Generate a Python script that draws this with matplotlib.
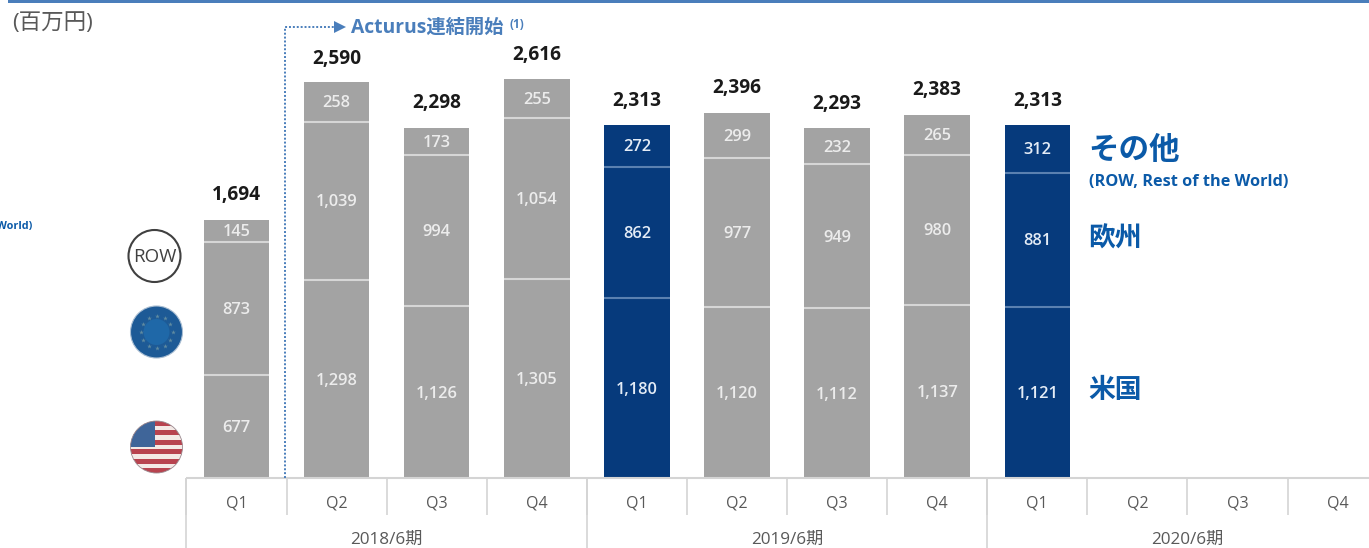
import numpy as np
import matplotlib
matplotlib.use("Agg")
from matplotlib import pyplot as plt
from matplotlib.patches import Circle, Rectangle

plt.rcParams['font.family'] = ['Open Sans', 'Noto Sans CJK JP', 'DejaVu Sans']

quarters = ["Q1", "Q2", "Q3", "Q4", "Q1", "Q2", "Q3", "Q4", "Q1", "Q2", "Q3", "Q4"]
fiscal_years = ["2018/6期", "2019/6期", "2020/6期"]
usa = [677, 1298, 1126, 1305, 1180, 1120, 1112, 1137, 1121]
europe = [873, 1039, 994, 1054, 862, 977, 949, 980, 881]
row = [145, 258, 173, 255, 272, 299, 232, 265, 312]
totals = [1694, 2590, 2298, 2616, 2313, 2396, 2293, 2383, 2313]
highlighted = [4, 8]

W, H = 1369, 548
BASE_Y = 478
PX_PER_UNIT = 0.1525
STEP = 100.1
FIRST_X = 236.5

GRAY = "#a3a3a3"
NAVY = "#063a7c"
LABEL_BLUE = "#0b5aa8"
HEAD_BLUE = "#4a7ebb"
RULE = "#d4d4d4"

fig = plt.figure(figsize=(W / 100, H / 100), dpi=100)
ax = fig.add_axes([0, 0, 1, 1])
ax.set_xlim(-FIRST_X / STEP, (W - FIRST_X) / STEP)
ax.set_ylim(-(H - BASE_Y) / PX_PER_UNIT, BASE_Y / PX_PER_UNIT)
ax.axis('off')

# overlay in pixel coordinates for annotations, y pointing down
pix = fig.add_axes([0, 0, 1, 1], facecolor='none')
pix.set_xlim(0, W)
pix.set_ylim(H, 0)
pix.axis('off')

# stacked bars
x = np.arange(len(totals))
colors = [NAVY if i in highlighted else GRAY for i in x]
bar_w = 65.5 / STEP
usa_a = np.array(usa)
eur_a = np.array(europe)
row_a = np.array(row)
ax.bar(x, usa_a, bar_w, color=colors)
ax.bar(x, eur_a, bar_w, bottom=usa_a, color=colors)
ax.bar(x, row_a, bar_w, bottom=usa_a + eur_a, color=colors)

# thin separators between the segments and the value labels
label_shift = 1.5 / PX_PER_UNIT
for i in x:
    sep = "#5a80b0" if i in highlighted else "#d6d6d6"
    txt = "#e4ecf6" if i in highlighted else "#ececec"
    ax.hlines([usa_a[i], usa_a[i] + eur_a[i]], i - bar_w / 2, i + bar_w / 2, color=sep, lw=1.5)
    bottom = 0
    for vals in (usa_a, eur_a, row_a):
        ax.text(i, bottom + vals[i] / 2 - label_shift, f"{vals[i]:,}", ha='center', va='center',
                color=txt, fontsize=11.8, fontweight='semibold')
        bottom += vals[i]
    ax.annotate(f"{totals[i]:,}", (i, totals[i]), xytext=(0, 24.5 * 0.72), textcoords='offset points',
                ha='center', va='center', color="#1a1a1a", fontsize=13.8, fontweight='bold')

# category table under the bars
n = len(quarters)
edges = np.arange(n) - 0.5
ax.hlines(0, edges[0], n, color=RULE, lw=1.5)
table_y = -37 / PX_PER_UNIT
ax.vlines(edges, table_y, 0, color=RULE, lw=1.2)
ax.vlines(edges[::4], ax.get_ylim()[0], 0, color=RULE, lw=1.2)
for i, q in enumerate(quarters):
    ax.text(i, -26 / PX_PER_UNIT, q, ha='center', va='center', color="#595959", fontsize=11.5)
for j, fy in enumerate(fiscal_years):
    ax.text(4 * j + 1.5, -62 / PX_PER_UNIT, fy, ha='center', va='center', color="#595959", fontsize=12.3)

# header rule and unit
pix.add_patch(Rectangle((8, 0), W - 8, 2.5, color=HEAD_BLUE, lw=0))
pix.text(12, 24, "(百万円)", ha='left', va='center', color="#595959", fontsize=16.2)

# consolidation marker
pix.plot([285, 285, 335], [478, 27, 27], color=HEAD_BLUE, lw=1.4, ls=(0, (1, 1)))
pix.plot([340], [27], marker='>', ms=8, color=HEAD_BLUE, mew=0)
pix.text(351, 27.5, "Acturus連結開始", ha='left', va='center', color=HEAD_BLUE, fontsize=13.9, fontweight='bold')
pix.text(509, 25, "(1)", ha='left', va='center', color=HEAD_BLUE, fontsize=8.5, fontweight='bold')

# region labels to the right of the last bar
pix.text(1088, 151, "その他", ha='left', va='center', color=LABEL_BLUE, fontsize=22, fontweight='bold')
pix.text(1089, 182, "(ROW, Rest of the World)", ha='left', va='center', color=LABEL_BLUE,
         fontsize=11.7, fontweight='bold')
pix.text(1088, 240, "欧州", ha='left', va='center', color=LABEL_BLUE, fontsize=19.3, fontweight='bold')
pix.text(1088, 391, "米国", ha='left', va='center', color=LABEL_BLUE, fontsize=19.3, fontweight='bold')
pix.text(32, 226, "(ROW, Rest of the World)", ha='right', va='center', color=LABEL_BLUE,
         fontsize=7.8, fontweight='bold')

# region icons on the left
pix.add_patch(Circle((154.5, 256), 26, fc='white', ec="#404040", lw=1.5))
pix.text(154.5, 257, "ROW", ha='center', va='center', color="#404040", fontsize=13.5)

pix.add_patch(Circle((156.5, 332), 26, fc="#1d5a96", ec="#a8bdd2", lw=0.8))
pix.add_patch(Circle((156.5, 332), 13, fc="#1f68a8", lw=0))
angles = np.arange(12) * np.pi / 6
pix.plot(156.5 + 16 * np.cos(angles), 332 + 16 * np.sin(angles), ls='none', marker='*', ms=3.5,
         color="#5f8aa0", mew=0)

flag_clip = Circle((156.5, 447), 26, transform=pix.transData)
for k in range(11):
    c = "#b8434f" if k % 2 == 0 else "#f4e9e6"
    s = pix.add_patch(Rectangle((130, 421 + k * 52 / 11), 53, 52 / 11 + 0.5, color=c, lw=0))
    s.set_clip_path(flag_clip)
canton = pix.add_patch(Rectangle((130, 421), 25, 26, color="#3f6599", lw=0))
canton.set_clip_path(flag_clip)
pix.add_patch(Circle((156.5, 447), 26, fc='none', ec="#9a8a90", lw=0.6))

fig.savefig("out.png", dpi=100)
